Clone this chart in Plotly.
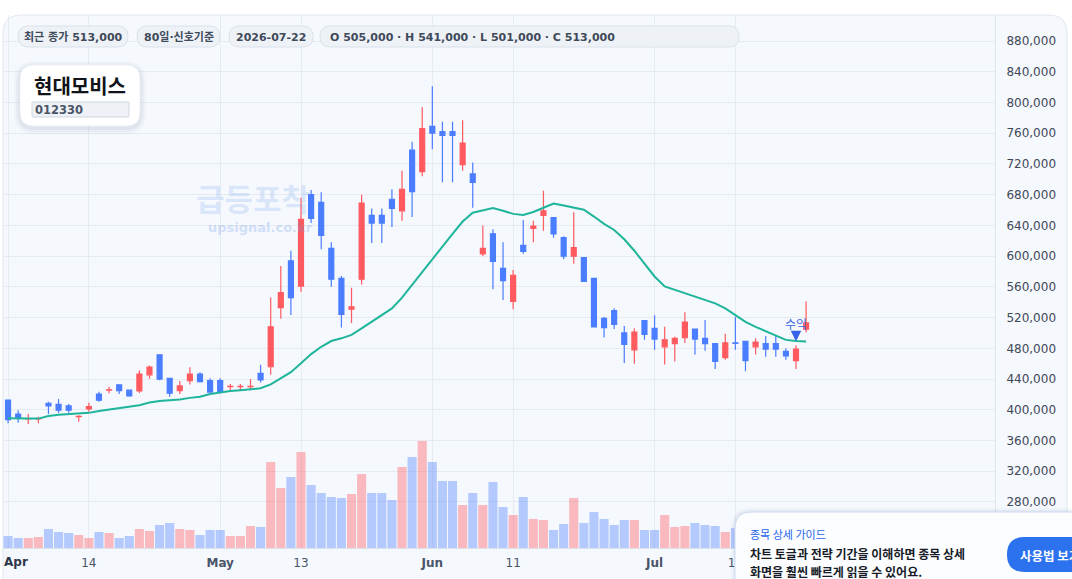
import plotly.graph_objects as go
import pandas as pd

# ---------------- data ----------------
dates = pd.bdate_range("2026-04-02", "2026-07-22").strftime("%Y-%m-%d").tolist()

opens = [412500, 394500, 388000, 388000, 408500, 407000, 405000, 391000, 401000, 420500,
         425500, 432500, 425500, 424500, 445500, 471500, 441000, 425000, 438000, 446500,
         438000, 438000, 430000, 430000, 430000, 447500, 456000, 533000, 594000, 561000,
         680000, 670000, 610000, 571000, 531000, 570000, 653000, 653000, 674000, 659000,
         738000, 710000, 769000, 762000, 762000, 719000, 707000, 603000, 629000, 584000,
         541000, 614000, 636000, 653000, 650000, 624000, 600000, 598000, 571000, 519000,
         529000, 500000, 478000, 516000, 506000, 482000, 486000, 494000, 505000, 493000,
         486000, 468000, 487000, 489000, 482000, 486000, 486000, 476000, 464000, 505000]
highs = [413000, 399500, 394500, 391000, 410500, 414000, 407500, 393000, 409000, 423500,
         430000, 432500, 426500, 451000, 457500, 471500, 441000, 437500, 455500, 449000,
         441000, 441000, 433500, 433500, 440000, 458500, 546000, 587000, 607000, 676000,
         686000, 683000, 618000, 574000, 559000, 680000, 662000, 662000, 687000, 711000,
         749000, 794000, 821000, 775000, 775000, 777000, 722000, 640000, 635000, 618000,
         582000, 647000, 646000, 685000, 650000, 626000, 657000, 599000, 571000, 521000,
         532000, 509000, 506000, 516000, 523000, 508000, 495000, 527000, 505000, 517000,
         486000, 499000, 521000, 489000, 493000, 496000, 496000, 480000, 484000, 541000]
lows = [382500, 383000, 381500, 382500, 394500, 396000, 396000, 384500, 397500, 410500,
        421500, 420500, 417000, 422000, 440500, 438500, 417000, 420500, 433000, 435500,
        423000, 423000, 425500, 425500, 425500, 435500, 445500, 518500, 523500, 553500,
        643000, 609000, 560000, 507000, 513000, 563000, 617000, 617000, 638000, 646000,
        651000, 704000, 739000, 696000, 696000, 711000, 663000, 600000, 557000, 543000,
        531000, 603000, 618000, 633000, 624000, 596000, 590000, 567000, 507000, 494000,
        505000, 461000, 460000, 491000, 478000, 459000, 463000, 487000, 472000, 477000,
        453000, 465000, 478000, 450000, 472000, 469000, 469000, 465000, 453000, 501000]
closes = [387000, 389000, 388500, 388500, 405000, 399500, 399500, 391500, 404000, 412500,
          426000, 425000, 418000, 446500, 455500, 440000, 421500, 431000, 446500, 436500,
          423000, 423000, 430500, 430500, 430500, 439000, 508000, 552500, 546000, 648000,
          649000, 627000, 570000, 524000, 534000, 669000, 643000, 643000, 662000, 687000,
          684000, 766000, 760000, 757000, 757000, 747000, 696000, 610000, 593000, 568000,
          575000, 606000, 639000, 659000, 629000, 600000, 611000, 567000, 508000, 507000,
          511000, 485000, 501000, 498000, 492000, 491000, 493000, 514000, 492000, 486000,
          463000, 487000, 486500, 464000, 488000, 479000, 479000, 470000, 479000, 513000]
volumes = [108000, 90000, 90000, 99000, 171000, 144000, 135000, 117000, 90000, 144000,
           135000, 90000, 108000, 171000, 153000, 207000, 225000, 171000, 162000, 117000,
           162000, 162000, 108000, 108000, 198000, 189000, 774000, 540000, 639000, 864000,
           567000, 495000, 459000, 450000, 486000, 666000, 495000, 495000, 432000, 729000,
           819000, 963000, 774000, 603000, 603000, 387000, 495000, 387000, 594000, 369000,
           297000, 459000, 261000, 252000, 162000, 216000, 450000, 225000, 324000, 261000,
           207000, 252000, 252000, 162000, 162000, 297000, 189000, 198000, 225000, 207000,
           198000, 144000, 180000, 216000, 162000, 153000, 135000, 171000, 234000, 270000]
ma_values = [389000, 388500, 388500, 388500, 392000, 393500, 394500, 395000, 396000, 398500,
             400500, 402000, 404000, 406000, 409500, 411500, 412500, 413500, 415500, 417000,
             420500, 422500, 424500, 425500, 426500, 428000, 433000, 441000, 449000, 460500,
             472500, 482000, 489500, 493000, 497500, 506000, 514500, 523500, 532000, 546000,
             563000, 579500, 596000, 612500, 629000, 645000, 656500, 660000, 662500, 659000,
             655000, 653500, 657500, 663000, 668500, 666000, 663500, 660500, 651500, 642000,
             634000, 622000, 607000, 590500, 573500, 560500, 556000, 551500, 547000, 543500,
             538500, 532000, 523500, 514500, 508000, 502500, 496500, 491000, 489500, 489000]

price_ticks = list(range(280000, 880001, 40000))
x_tick_dates = ["2026-04-02", "2026-04-14", "2026-05-01", "2026-05-13",
                "2026-06-01", "2026-06-11", "2026-07-01", "2026-07-13"]
x_tick_text = ["", "14", "<b>May</b>", "13", "<b>Jun</b>", "11", "<b>Jul</b>", "13"]

stock_name = "현대모비스"
stock_code = "012330"
period_label = "80일·신호기준"
signal_date = "2026-07-21"
signal_label = "수익"
guide_title = "종목 상세 가이드"
guide_lines = ["차트 토글과 전략 기간을 이해하면 종목 상세", "화면을 훨씬 빠르게 읽을 수 있어요."]
guide_button = "사용법 보기"

# ---------------- style ----------------
RED = "#ff5a5f"
BLUE = "#4a7dff"
MA_COLOR = "#1fb59b"
FONT = "DejaVu Sans, Noto Sans CJK KR, sans-serif"
KFONT = "Noto Sans CJK KR, DejaVu Sans, sans-serif"

FW, FH = 1072, 579
L, R, T, B = 3, 77, 15, 31
PW, PH = FW - L - R, FH - T - B


def px(x):
    return (x - L) / PW


def py(y):
    return 1 - (y - T) / PH


def rrect(x0, y0, x1, y1, r, fill, line=None, lw=1, layer="above"):
    p = (f"M {px(x0 + r)},{py(y0)} L {px(x1 - r)},{py(y0)} Q {px(x1)},{py(y0)} {px(x1)},{py(y0 + r)} "
         f"L {px(x1)},{py(y1 - r)} Q {px(x1)},{py(y1)} {px(x1 - r)},{py(y1)} "
         f"L {px(x0 + r)},{py(y1)} Q {px(x0)},{py(y1)} {px(x0)},{py(y1 - r)} "
         f"L {px(x0)},{py(y0 + r)} Q {px(x0)},{py(y0)} {px(x0 + r)},{py(y0)} Z")
    return dict(type="path", xref="paper", yref="paper", path=p, fillcolor=fill,
                line=dict(color=line or "rgba(0,0,0,0)", width=lw if line else 0), layer=layer)


def txt(x, y, text, size, color, anchor="left", family=FONT):
    return dict(xref="paper", yref="paper", x=px(x), y=py(y), text=text, showarrow=False,
                xanchor=anchor, yanchor="middle", font=dict(size=size, color=color, family=family))


vol_colors = ["rgba(255,90,95,0.40)" if c >= o else "rgba(74,125,255,0.38)"
              for o, c in zip(opens, closes)]

fig = go.Figure()
fig.add_trace(go.Bar(x=dates, y=volumes, yaxis="y2", marker=dict(color=vol_colors, line=dict(width=0)),
                     hoverinfo="skip"))
fig.add_trace(go.Candlestick(
    x=dates, open=opens, high=highs, low=lows, close=closes,
    increasing=dict(line=dict(color=RED, width=1.2), fillcolor=RED),
    decreasing=dict(line=dict(color=BLUE, width=1.2), fillcolor=BLUE),
    whiskerwidth=0))
fig.add_trace(go.Scatter(x=dates, y=ma_values, mode="lines",
                         line=dict(color=MA_COLOR, width=2), hoverinfo="skip"))

shapes = []
# card background
shapes.append(rrect(3, 15, 1067, 640, 18, "#f5f8fd", "#e1e7ef", 1, layer="below"))
# badges
last = len(closes) - 1
badges = [
    (18, 128, f"최근 종가 {closes[last]:,}", "center"),
    (137, 220, period_label, "center"),
    (229, 313, dates[last], "center"),
    (320, 739, f"O {opens[last]:,} · H {highs[last]:,} · L {lows[last]:,} · C {closes[last]:,}", "left"),
]
annotations = []
for x0, x1, t, anc in badges:
    shapes.append(rrect(x0, 26, x1, 47, 10.5, "#eef2f7", "#dbe2ea", 1))
    if anc == "center":
        annotations.append(txt((x0 + x1) / 2, 37, f"<b>{t}</b>", 11, "#3f4a5a", "center"))
    else:
        annotations.append(txt(x0 + 8, 37, f"<b>{t}</b>", 11, "#3f4a5a", "left"))

# title box with soft shadow
for i, a in enumerate([0.025, 0.035, 0.05]):
    d = 6 - 2 * i
    shapes.append(rrect(20 - d, 65 - d + 2, 140 + d, 126 + d + 2, 14 + d, f"rgba(40,60,100,{a})"))
shapes.append(rrect(20, 65, 140, 126, 14, "#ffffff", "#eef1f5", 1))
shapes.append(rrect(32, 102, 129, 117, 1, "#eef1f5", "#cfd6df", 1))
annotations.append(txt(32, 86, f"<b>{stock_name}</b>", 20, "#111418", "left", KFONT))
annotations.append(txt(33, 109.5, f"<b>{stock_code}</b>", 11.5, "#4a5568", "left"))

# watermark
annotations.append(txt(253, 197, "<b>급등포착</b>", 31, "rgba(100,150,230,0.19)", "center", KFONT))
annotations.append(txt(260, 228, "<b>upsignal.co.kr</b>", 13, "rgba(100,150,230,0.27)", "center"))

# first x label
annotations.append(txt(16, 562, "<b>Apr</b>", 12, "#2d3748", "center"))

# signal marker
si = dates.index(signal_date)
annotations.append(dict(x=signal_date, y=highs[si], xref="x", yref="y", text=signal_label,
                        showarrow=True, ax=0, ay=-22, arrowhead=2, arrowsize=0.7, arrowwidth=3,
                        arrowcolor="#3563e9", standoff=4,
                        font=dict(size=12, color="#3b6be6", family=KFONT)))

# guide popup
for i, a in enumerate([0.03, 0.05]):
    d = 4 - 2 * i
    shapes.append(rrect(735 - d, 512 - d, 1100, 640, 16 + d, f"rgba(40,70,140,{a})"))
shapes.append(rrect(735, 512, 1100, 640, 16, "#fcfdff", "#cddaf0", 1))
annotations.append(txt(748, 534, guide_title, 11, "#2563eb", "left", KFONT))
annotations.append(txt(748, 553, f"<b>{guide_lines[0]}</b>", 12, "#161b26", "left", KFONT))
annotations.append(txt(748, 571.5, f"<b>{guide_lines[1]}</b>", 12, "#161b26", "left", KFONT))
shapes.append(rrect(1007, 537, 1120, 572, 17.5, "#2c72ee"))
annotations.append(txt(1018, 555, f"<b>{guide_button}</b>", 12.5, "#ffffff", "left", KFONT))

fig.update_layout(
    width=FW, height=FH,
    margin=dict(l=L, r=R, t=T, b=B),
    paper_bgcolor="#ffffff", plot_bgcolor="rgba(0,0,0,0)",
    showlegend=False, bargap=0.1,
    font=dict(family=FONT, size=12, color="#3f4858"),
    xaxis=dict(type="category", range=[-0.5, 97.7], rangeslider=dict(visible=False),
               tickmode="array", tickvals=x_tick_dates, ticktext=x_tick_text,
               showgrid=True, gridcolor="#e6ebf1", gridwidth=1,
               showline=True, linecolor="#dbe1e8", linewidth=1, ticks="",
               tickfont=dict(size=12, color="#4a5568"), ticklabelstandoff=4,
               fixedrange=True),
    yaxis=dict(side="right", range=[220100, 913850], tickmode="array", tickvals=price_ticks,
               ticktext=[f"{v:,}" for v in price_ticks], showgrid=True, gridcolor="#e6ebf1",
               gridwidth=1, showline=True, linecolor="#dfe5ec", linewidth=1, ticks="",
               ticklabelstandoff=8, tickfont=dict(size=12, color="#3f4858"), zeroline=False),
    yaxis2=dict(overlaying="y", range=[0, max(volumes) * 4.98], visible=False, showgrid=False),
    shapes=shapes, annotations=annotations,
)

fig.write_html("out.html")
